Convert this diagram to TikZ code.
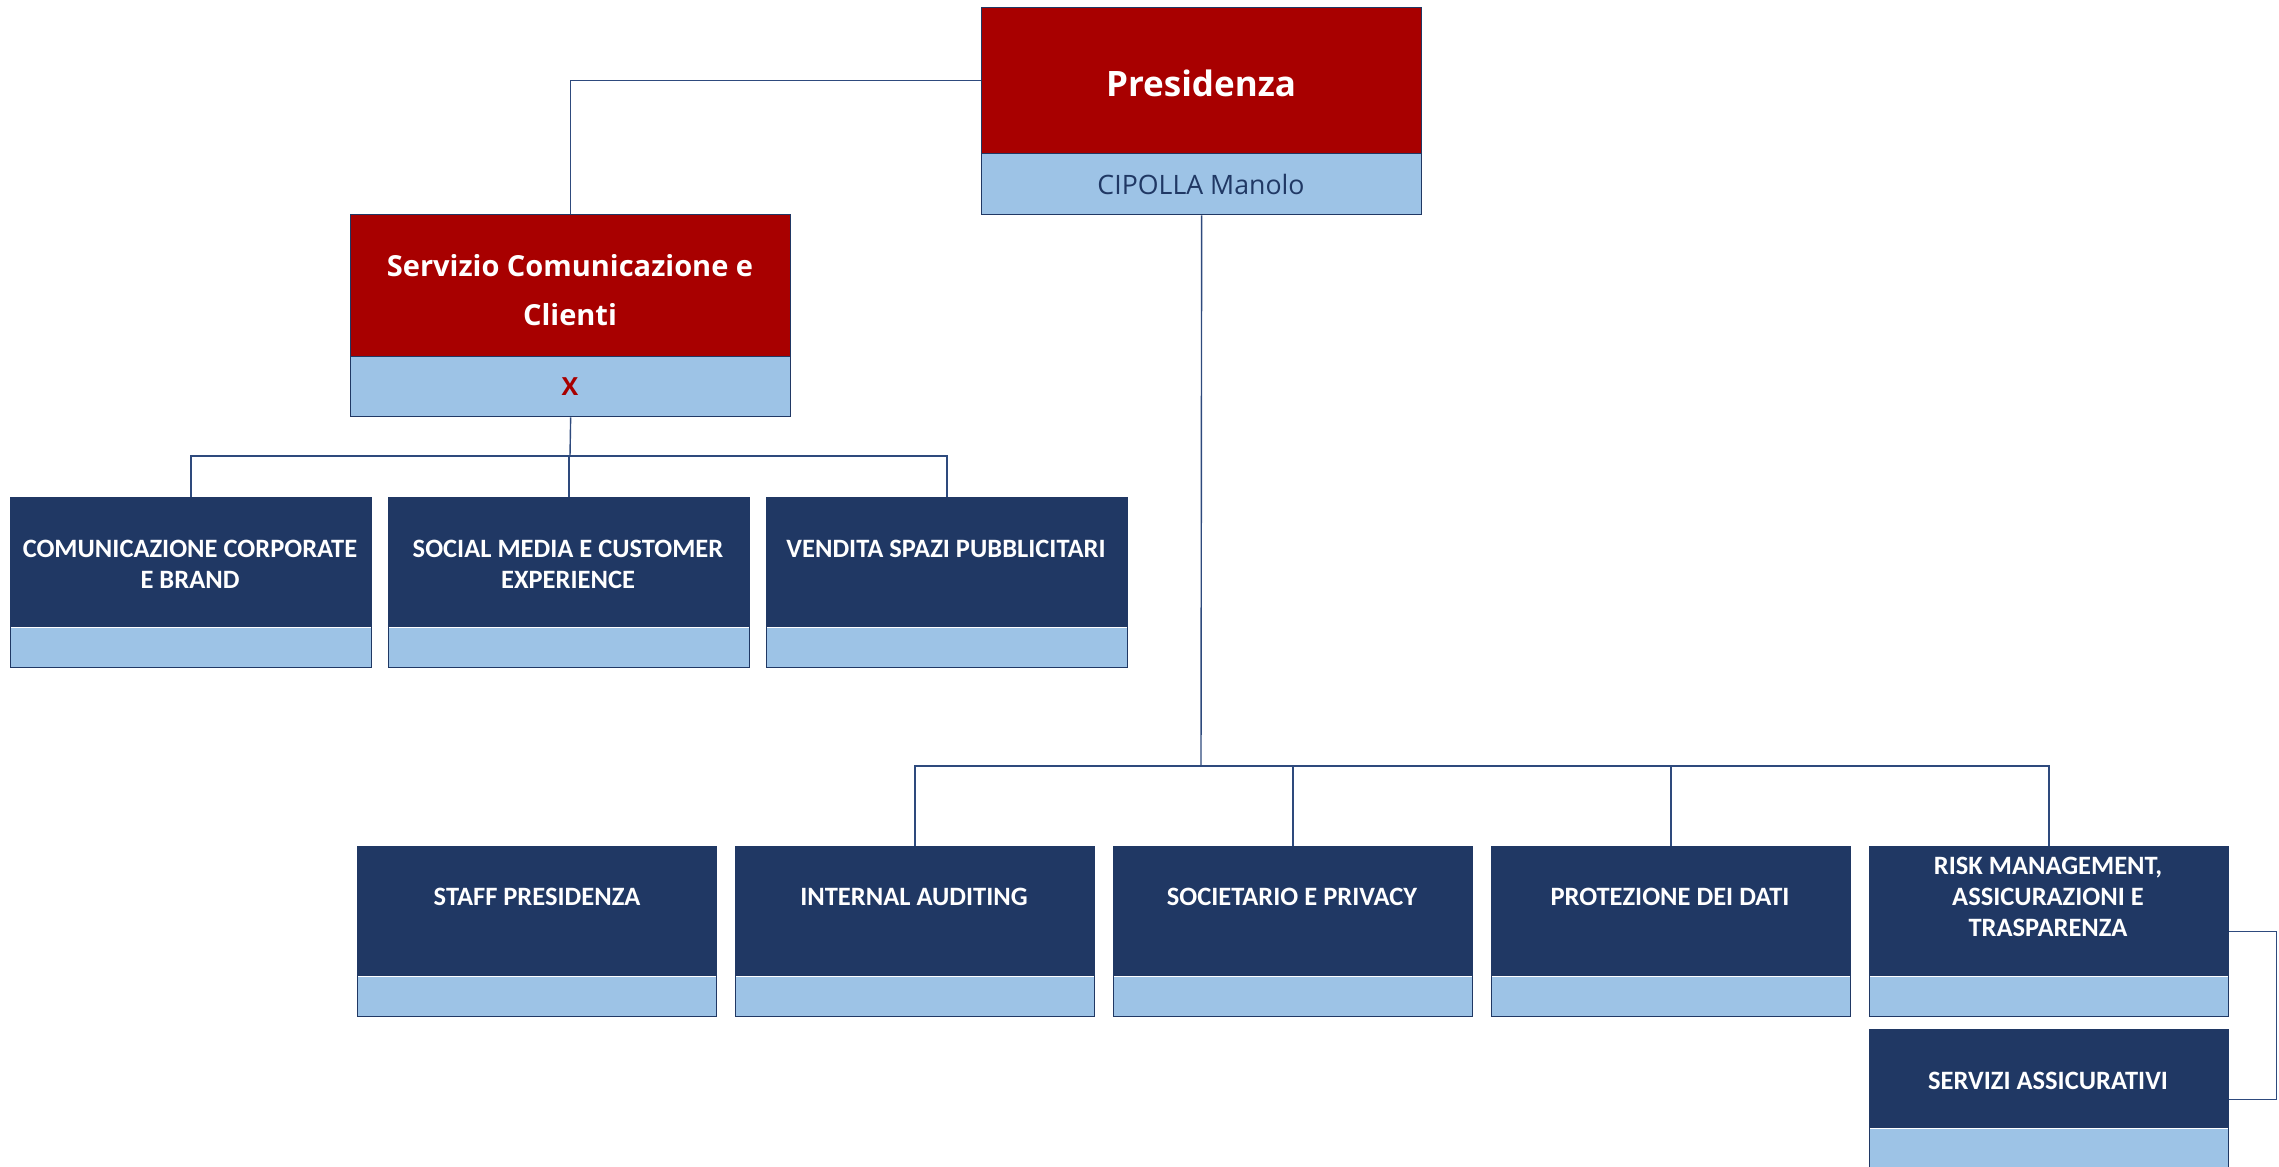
\documentclass[tikz,border=0pt]{standalone}
\usepackage{fontspec}
\setmainfont{Open Sans}
\newfontfamily\boxfont{Carlito}
\definecolor{navy}{HTML}{203864}
\definecolor{headred}{HTML}{A80000}
\definecolor{lightblue}{HTML}{9DC3E6}
\definecolor{linkblue}{HTML}{2E4A7D}
\begin{document}
\begin{tikzpicture}[x=1pt,y=-1pt,
  outerbox/.style={draw=navy, fill=lightblue, line width=1.3pt, anchor=north west, inner sep=0pt},
  redhead/.style={draw=navy, fill=headred, line width=1.3pt, anchor=north west, inner sep=0pt},
  bluehead/.style={draw=navy, fill=navy, line width=1.3pt, anchor=north west, inner sep=0pt},
  l3/.style={minimum width=361pt},
  l2/.style={minimum width=359pt},
  headtitle/.style={text=white, font=\bfseries\fontsize{35}{42}\selectfont, inner sep=0pt},
  headsub/.style={text=navy, font=\fontsize{26.7}{32}\selectfont, inner sep=0pt},
  unittitle/.style={text=white, font=\boxfont\bfseries\fontsize{26.5}{31}\selectfont, align=center, inner sep=0pt},
  link/.style={draw=linkblue, line width=1.4pt},
  split/.style={draw=white, line width=1.5pt}
]
\useasboundingbox (0,0) rectangle (2279,1167);

% --- Presidenza ---
\node[outerbox, minimum width=440pt, minimum height=207pt] (pres) at (981,7) {};
\node[redhead, minimum width=440pt, minimum height=146pt] (pres-h) at (981,7) {};
\node[headtitle] (pres-t) at (1201,83) {Presidenza};
\node[headsub] (pres-n) at (1201,184) {CIPOLLA Manolo};

% --- Servizio Comunicazione e Clienti ---
\node[outerbox, minimum width=440pt, minimum height=202pt] (serv) at (350,214) {};
\node[redhead, minimum width=440pt, minimum height=142pt] (serv-h) at (350,214) {};
\node[text=white, font=\bfseries\fontsize{29}{49}\selectfont, align=center, inner sep=0pt] (serv-t) at (570,290) {Servizio Comunicazione e\\Clienti};
\node[text=headred, font=\bfseries\fontsize{25}{30}\selectfont, inner sep=0pt] (serv-n) at (570,387) {X};

% --- units under Servizio ---
\node[outerbox, l3, minimum height=170pt] (corp) at (10,497) {};
\node[bluehead, l3, minimum height=129pt] (corp-h) at (10,497) {};
\node[unittitle] (corp-t) at (190,564) {COMUNICAZIONE CORPORATE\\E BRAND};

\node[outerbox, l3, minimum height=170pt] (social) at (388,497) {};
\node[bluehead, l3, minimum height=129pt] (social-h) at (388,497) {};
\node[unittitle] (social-t) at (568,564) {SOCIAL MEDIA E CUSTOMER\\EXPERIENCE};

\node[outerbox, l3, minimum height=170pt] (vendita) at (766,497) {};
\node[bluehead, l3, minimum height=129pt] (vendita-h) at (766,497) {};
\node[unittitle] (vendita-t) at (946,549) {VENDITA SPAZI PUBBLICITARI};

% --- units under Presidenza ---
\node[outerbox, l2, minimum height=170pt] (staff) at (357,846) {};
\node[bluehead, l2, minimum height=129pt] (staff-h) at (357,846) {};
\node[unittitle] (staff-t) at (537,897) {STAFF PRESIDENZA};

\node[outerbox, l2, minimum height=170pt] (audit) at (735,846) {};
\node[bluehead, l2, minimum height=129pt] (audit-h) at (735,846) {};
\node[unittitle] (audit-t) at (914,897) {INTERNAL AUDITING};

\node[outerbox, l2, minimum height=170pt] (soc) at (1113,846) {};
\node[bluehead, l2, minimum height=129pt] (soc-h) at (1113,846) {};
\node[unittitle] (soc-t) at (1292,897) {SOCIETARIO E PRIVACY};

\node[outerbox, l2, minimum height=170pt] (prot) at (1491,846) {};
\node[bluehead, l2, minimum height=129pt] (prot-h) at (1491,846) {};
\node[unittitle] (prot-t) at (1670,897) {PROTEZIONE DEI DATI};

\node[outerbox, l2, minimum height=170pt] (risk) at (1869,846) {};
\node[bluehead, l2, minimum height=129pt] (risk-h) at (1869,846) {};
\node[unittitle] (risk-t) at (2048,897) {RISK MANAGEMENT,\\ASSICURAZIONI E\\TRASPARENZA};

\node[outerbox, l2, minimum height=140pt] (assic) at (1869,1029) {};
\node[bluehead, l2, minimum height=98pt] (assic-h) at (1869,1029) {};
\node[unittitle] (assic-t) at (2048,1081) {SERVIZI ASSICURATIVI};

% thin white rule between the title band and the name band
\foreach \u in {corp,social,vendita,staff,audit,soc,prot,risk,assic}
  \draw[split] ([xshift=1pt]\u-h.south west) -- ([xshift=-1pt]\u-h.south east);

% --- connectors ---
\coordinate (sbus) at (570,456);
\coordinate (pbus) at (1201,766);

\draw[link] (pres-h.west) -| (serv.north);

\draw[link] (serv.south) -- (sbus);
\draw[link] (corp.north) |- (sbus) -| (vendita.north);
\draw[link] (social.north) -- (social.north |- sbus);

\draw[link] (pres.south) -- (pbus);
\draw[link] (audit.north) |- (pbus) -| (risk.north);
\draw[link] (soc.north) -- (soc.north |- pbus);
\draw[link] (prot.north) -- (prot.north |- pbus);

\draw[link] (risk.east) -- ++(47,0) |- (assic.east);
\end{tikzpicture}
\end{document}
